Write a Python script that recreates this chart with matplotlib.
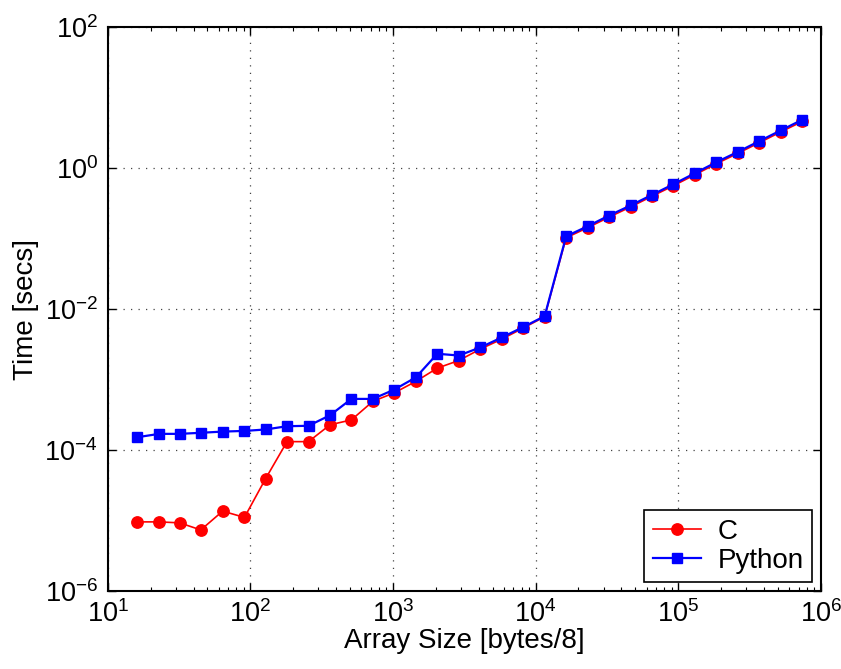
import numpy as np
import matplotlib.pyplot as plt
from matplotlib.ticker import LogLocator, NullLocator, NullFormatter

plt.rcParams["font.family"] = ["Liberation Sans", "DejaVu Sans"]

# array sizes (bytes/8)
sizes = [16, 23, 32, 45, 64, 91, 128, 181, 256, 362, 512, 724,
         1024, 1448, 2048, 2896, 4096, 5793, 8192, 11585, 16384, 23170,
         32768, 46341, 65536, 92682, 131072, 185364, 262144, 370728,
         524288, 741455]

t_c = [9.5e-6, 9.5e-6, 9.2e-6, 7.3e-6, 1.35e-5, 1.1e-5, 3.9e-5, 1.31e-4,
       1.31e-4, 2.27e-4, 2.67e-4, 4.9e-4, 6.47e-4, 9.4e-4, 1.45e-3,
       1.86e-3, 2.7e-3, 3.74e-3, 5.37e-3, 7.8e-3, 0.103, 0.143, 0.202,
       0.282, 0.40, 0.565, 0.81, 1.16, 1.63, 2.31, 3.28, 4.62]

t_py = [1.51e-4, 1.69e-4, 1.69e-4, 1.75e-4, 1.82e-4, 1.86e-4, 1.95e-4,
        2.17e-4, 2.2e-4, 3.1e-4, 5.3e-4, 5.3e-4, 7.2e-4, 1.07e-3, 2.32e-3,
        2.19e-3, 2.85e-3, 3.95e-3, 5.55e-3, 7.94e-3, 0.108, 0.15, 0.213,
        0.296, 0.419, 0.594, 0.851, 1.22, 1.71, 2.43, 3.45, 4.89]

fig = plt.figure(figsize=(8.41, 6.69), dpi=100)
ax = fig.add_axes([0.128, 0.117, 0.848, 0.842])

ax.loglog(sizes, t_c, "-o", color="#ff0000", lw=1.2, ms=8.2, label="C")
ax.loglog(sizes, t_py, "-s", color="#0000ff", lw=1.6, ms=7.2, label="Python")

ax.set_xlim(10, 1e6)
ax.set_ylim(1e-6, 1e2)
ax.xaxis.set_major_locator(LogLocator(base=10, numticks=10))
ax.xaxis.set_minor_locator(LogLocator(base=10, subs=np.arange(2, 10), numticks=20))
ax.xaxis.set_minor_formatter(NullFormatter())
ax.set_yticks([1e-6, 1e-4, 1e-2, 1e0, 1e2])
ax.yaxis.set_minor_locator(NullLocator())

ax.tick_params(which="both", direction="in", top=True, right=True,
               labelsize=19.5, pad=7)
ax.tick_params(which="major", length=6, width=1)
ax.tick_params(which="minor", length=3, width=0.8)
for s in ax.spines.values():
    s.set_linewidth(1.5)

ax.grid(True, which="major", linestyle=(0, (1, 5)), color="#444444", lw=0.9)

ax.set_xlabel("Array Size [bytes/8]", fontsize=20, labelpad=0)
ax.set_ylabel("Time [secs]", fontsize=20, labelpad=4)

leg = ax.legend(loc="lower right", fontsize=20, fancybox=False,
                framealpha=1, edgecolor="black", borderaxespad=0.3,
                handlelength=1.75, handletextpad=0.6, borderpad=0.3,
                labelspacing=0.12)
leg.get_frame().set_linewidth(1.2)

fig.savefig("out.png", dpi=100)
